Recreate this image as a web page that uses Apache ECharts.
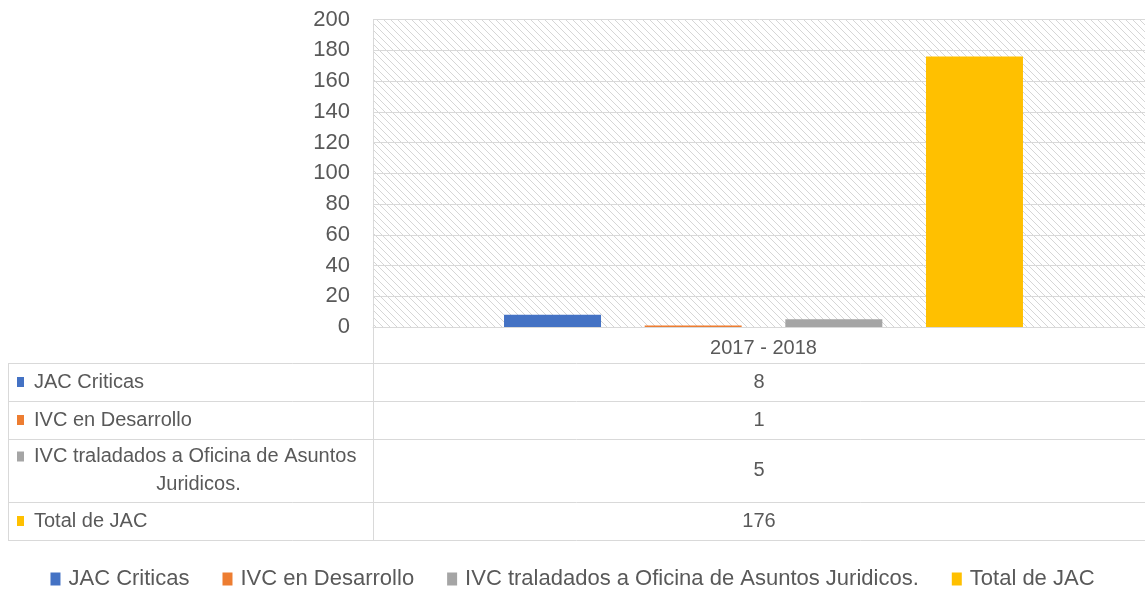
<!DOCTYPE html>
<html>
<head>
<meta charset="utf-8">
<script src="https://cdn.jsdelivr.net/npm/echarts@6/dist/echarts.min.js"></script>
<style>
  html, body { margin: 0; padding: 0; background: #fff; }
  #chart { width: 1145px; height: 589px; }
</style>
</head>
<body>
<div id="chart"></div>
<script>
// data
const categories = ['2017 - 2018'];
const seriesNames = ['JAC Criticas', 'IVC en Desarrollo', 'IVC traladados a Oficina de Asuntos Juridicos.', 'Total de JAC'];
const seriesValues = [8, 1, 5, 176];
const seriesColors = ['#4472C4', '#ED7D31', '#A5A5A5', '#FFC000'];
// how the names are written in the data table cells
const tableLabelLines = [['JAC Criticas'], ['IVC en Desarrollo'], ['IVC traladados a Oficina de Asuntos', 'Juridicos.'], ['Total de JAC']];
const yMin = 0, yMax = 200, yStep = 20;

const textColor = '#595959';
const lineColor = '#d9d9d9';
const fontFamily = 'Liberation Sans, Arial, sans-serif';

// diagonal hatch for the plot background
function hatchPattern() {
  const s = 7;
  const c = document.createElement('canvas');
  c.width = s; c.height = s;
  const ctx = c.getContext('2d');
  ctx.fillStyle = '#fff';
  ctx.fillRect(0, 0, s, s);
  ctx.strokeStyle = '#d6d6d6';
  ctx.lineWidth = 1;
  [-s, 0, s].forEach(o => {
    ctx.beginPath();
    ctx.moveTo(o, 0);
    ctx.lineTo(o + s, s);
    ctx.stroke();
  });
  return c;
}

const chart = echarts.init(document.getElementById('chart'), null, { renderer: 'canvas', devicePixelRatio: 1 });

// table layout (positions only)
const plotLeft = 373, tableLeft = 8, tableRight = 1145;
const rowTops = [363, 401, 439, 502, 540];
const valueX = 759;

function buildTable() {
  const g = [];
  // horizontal rules
  rowTops.forEach(y => {
    g.push({ type: 'line', shape: { x1: tableLeft, y1: y + 0.5, x2: tableRight, y2: y + 0.5 },
      style: { stroke: lineColor, lineWidth: 1 }, silent: true });
  });
  // vertical rules
  g.push({ type: 'line', shape: { x1: tableLeft + 0.5, y1: rowTops[0], x2: tableLeft + 0.5, y2: rowTops[rowTops.length - 1] },
    style: { stroke: lineColor, lineWidth: 1 }, silent: true });
  g.push({ type: 'line', shape: { x1: plotLeft + 0.5, y1: 327, x2: plotLeft + 0.5, y2: rowTops[rowTops.length - 1] },
    style: { stroke: lineColor, lineWidth: 1 }, silent: true });

  seriesNames.forEach((name, i) => {
    const top = rowTops[i], bottom = rowTops[i + 1];
    const mid = (top + bottom) / 2;
    const lines = tableLabelLines[i];
    const lh = 28;
    const firstY = mid - (lines.length - 1) * lh / 2;
    // key square
    g.push({ type: 'rect', shape: { x: 17, y: firstY - 5, width: 7, height: 10 },
      style: { fill: seriesColors[i] }, silent: true });
    lines.forEach((ln, k) => {
      const wrapped = k > 0;
      g.push({ type: 'text', x: wrapped ? (tableLeft + plotLeft) / 2 + 8 : 34, y: firstY + k * lh,
        style: { text: ln, fill: textColor, font: '20px ' + fontFamily,
          align: wrapped ? 'center' : 'left', verticalAlign: 'middle' }, silent: true });
    });
    g.push({ type: 'text', x: valueX, y: mid,
      style: { text: String(seriesValues[i]), fill: textColor, font: '20px ' + fontFamily,
        align: 'center', verticalAlign: 'middle' }, silent: true });
  });
  return g;
}

const option = {
  animation: false,
  backgroundColor: '#fff',
  textStyle: { fontFamily: fontFamily },
  grid: {
    left: plotLeft, width: 781, top: 19.5, bottom: 262,
    outerBoundsMode: 'none',
    show: true, borderWidth: 0,
    backgroundColor: { image: hatchPattern(), repeat: 'repeat' }
  },
  legend: {
    bottom: -6, left: 'center',
    icon: 'rect', itemWidth: 10, itemHeight: 13, itemGap: 33,
    textStyle: { color: textColor, fontSize: 22, fontFamily: fontFamily, padding: [0, 0, 0, 3] },
    data: seriesNames
  },
  xAxis: {
    type: 'category',
    data: categories,
    axisLine: { show: true, lineStyle: { color: lineColor } },
    axisTick: { show: false },
    axisLabel: { color: textColor, fontSize: 20, margin: 11 },
    splitLine: { show: false }
  },
  yAxis: {
    type: 'value',
    min: yMin, max: yMax, interval: yStep,
    axisLine: { show: true, lineStyle: { color: lineColor } },
    axisTick: { show: false },
    axisLabel: { color: textColor, fontSize: 22, margin: 23 },
    splitLine: { show: true, lineStyle: { color: lineColor, width: 1 } }
  },
  series: seriesNames.map((name, i) => ({
    name: name,
    type: 'bar',
    barWidth: 97,
    barGap: '45%',
    itemStyle: { color: seriesColors[i] },
    data: [seriesValues[i]]
  })),
  graphic: buildTable()
};

chart.setOption(option);
</script>
</body>
</html>
